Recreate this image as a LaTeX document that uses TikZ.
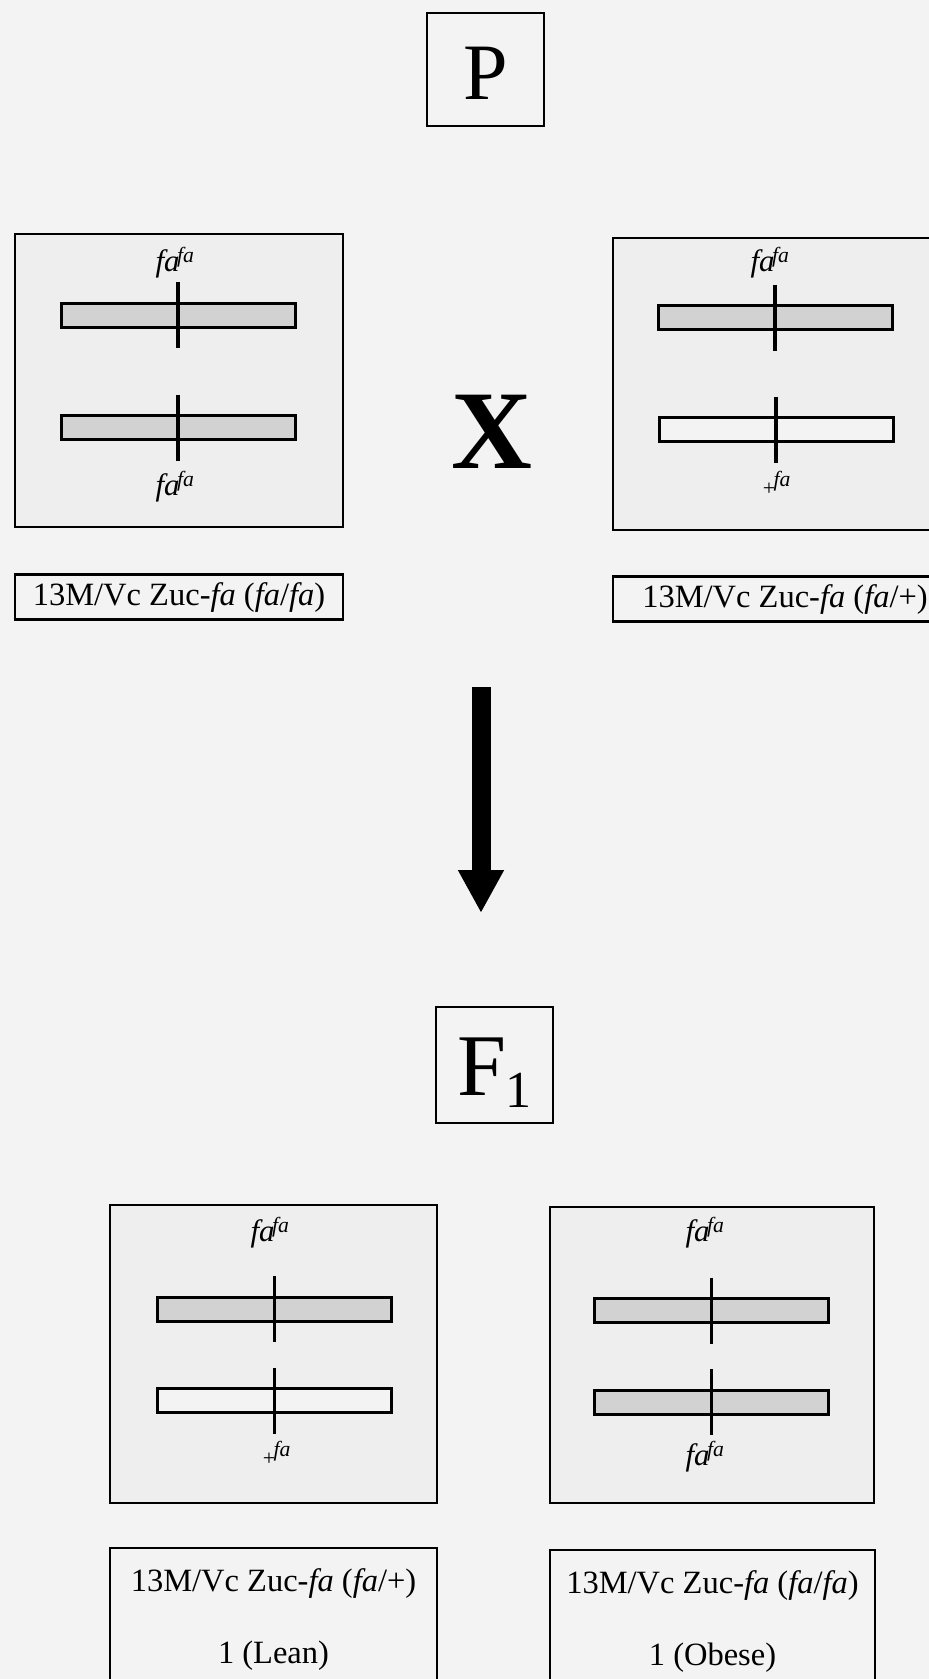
\documentclass[tikz,border=0pt]{standalone}
\usepackage{fontspec}
\setmainfont{Liberation Serif}
\usetikzlibrary{arrows.meta, positioning}

\definecolor{paper}{HTML}{F3F3F3}
\definecolor{panelbg}{HTML}{EEEEEE}
\definecolor{stipple}{HTML}{D2D2D2}

% allele labels
\newcommand\fafa{\textit{fa}\textsuperscript{\kern-0.12em\textit{fa}}}
\newcommand\plusfa{{\fontsize{22}{22}\selectfont +}\textsuperscript{\kern-0.08em\textit{fa}}}

% one chromosome bar centred at (#1,#2), filled with #3, locus line through it
\newcommand\chromo[3]{%
  \draw[chrombar, fill=#3] (#1-117,#2-12) rectangle (#1+117,#2+12);
  \draw[locus] (#1,#2-33) -- (#1,#2+33);}

\begin{document}
\begin{tikzpicture}[x=1pt, y=-1pt,
    panel/.style={draw, line width=2.8pt, fill=panelbg, inner sep=0pt},
    strain/.style={draw, line width=2.4pt, fill=paper, inner sep=0pt, font=\fontsize{32.5}{38}\selectfont},
    result/.style={draw, line width=2.4pt, fill=paper, anchor=north, inner xsep=0pt, inner ysep=20pt, align=center, font=\fontsize{32.5}{38}\selectfont},
    gen/.style={draw, line width=2.2pt, inner sep=0pt, minimum width=117pt},
    allele/.style={inner sep=0pt, font=\fontsize{31}{33}\selectfont},
    chrombar/.style={draw, line width=3pt},
    locus/.style={line width=3.4pt},
    bigarrow/.style={line width=19pt, -{Triangle[width=43pt, length=43pt]}}
]
    \clip (0,0) rectangle (929,1679);
    \fill[paper] (0,0) rectangle (929,1679);

    % parental generation
    \node[gen, minimum height=113pt, text height=64pt, text depth=5pt, font=\fontsize{80}{80}\selectfont] (pgen) at (485.5,69.5) {P};

    \node[panel, minimum width=328pt, minimum height=293pt] (mom) at (179,380.5) {};
    \node[panel, minimum width=328pt, minimum height=292pt] (dad) at (777,384) {};
    \node[font=\fontsize{112}{112}\selectfont\bfseries] (cross) at (492,432) {X};

    \chromo{178}{315}{stipple}
    \chromo{178}{427.5}{stipple}
    \node[allele] (momtop) at (175,263) {\fafa};
    \node[allele] (mombot) at (175,487) {\fafa};

    \chromo{775}{317.5}{stipple}
    \chromo{776}{429.5}{paper}
    \node[allele] (dadtop) at (770,263) {\fafa};
    \node[allele] (dadbot) at (777,483) {\plusfa};

    \node[strain, minimum width=328pt, minimum height=45pt, below=45pt of mom] (momname) {13M/Vc Zuc-\textit{fa} (\textit{fa}/\textit{fa})};
    \node[strain, minimum width=344pt, minimum height=45pt, below=44pt of dad, xshift=8pt] (dadname) {13M/Vc Zuc-\textit{fa} (\textit{fa}/+)};

    % cross arrow
    \coordinate (arrtop) at (481,687);
    \coordinate (arrtip) at (481,913);
    \draw[bigarrow] (arrtop) -- (arrtip);

    % first filial generation
    \node[gen, minimum height=116pt, text height=70pt, text depth=10pt, font=\fontsize{88}{88}\selectfont] (fgen) at (494.5,1065) {F\raisebox{-12pt}{\fontsize{52}{52}\selectfont 1}};

    \node[panel, minimum width=327pt, minimum height=298pt] (lean) at (273.5,1354) {};
    \node[panel, minimum width=324pt, minimum height=296pt] (obese) at (712,1355) {};

    \chromo{274.5}{1309}{stipple}
    \chromo{274.5}{1400.5}{paper}
    \node[allele] (leantop) at (270,1233) {\fafa};
    \node[allele] (leanbot) at (277,1453) {\plusfa};

    \chromo{711.5}{1310.5}{stipple}
    \chromo{711.5}{1402}{stipple}
    \node[allele] (obesetop) at (705,1233) {\fafa};
    \node[allele] (obesebot) at (705,1457) {\fafa};

    \node[result, minimum width=327pt] (leanname) at (273.5,1547) {13M/Vc Zuc-\textit{fa} (\textit{fa}/+)\\[34pt]1 (Lean)};
    \node[result, minimum width=325pt] (obesename) at (712.5,1549) {13M/Vc Zuc-\textit{fa} (\textit{fa}/\textit{fa})\\[34pt]1 (Obese)};
\end{tikzpicture}
\end{document}
